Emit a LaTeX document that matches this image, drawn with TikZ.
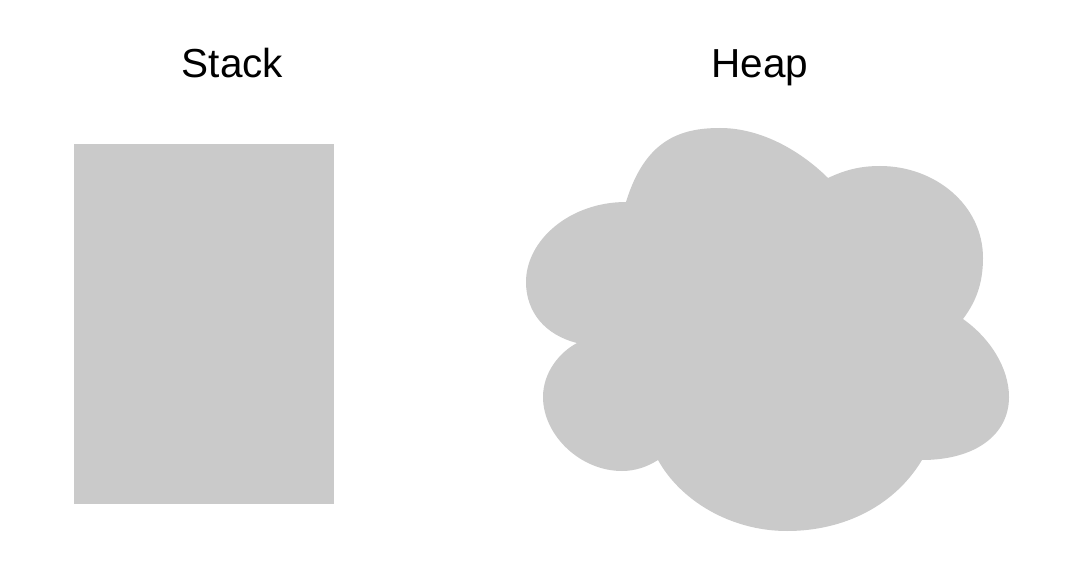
\documentclass[tikz,border=0pt]{standalone}
\usepackage{fontspec}
\setmainfont{Liberation Sans}
\definecolor{blockgray}{RGB}{202,202,202}
\begin{document}
\begin{tikzpicture}[x=1pt,y=-1pt,
  title/.style={anchor=base,inner sep=0pt,font=\fontsize{40.5}{48}\selectfont},
  blockfill/.style={fill=blockgray,draw=none}]
\useasboundingbox (0,0) rectangle (1073,569);
\node[title] (stacklabel) at (232.5,78) {Stack};
\node[title] (heaplabel) at (760,78) {Heap};
\node[blockfill,minimum width=260pt,minimum height=360pt,inner sep=0pt] (stack) at (204,324) {};
\path[blockfill] (626,202)
  .. controls (645,140) and (680,128) .. (720,128)
  .. controls (765,128) and (805,155) .. (828,178)
  .. controls (845,170) and (860,166) .. (880,166)
  .. controls (935,166) and (983,205) .. (983,258)
  .. controls (983,285) and (975,303) .. (963,319)
  .. controls (990,338) and (1009,368) .. (1009,397)
  .. controls (1009,435) and (975,460) .. (922,460)
  .. controls (895,505) and (845,531) .. (787,531)
  .. controls (730,531) and (680,500) .. (658,460)
  .. controls (647,467) and (635,471) .. (622,471)
  .. controls (580,471) and (543,435) .. (543,397)
  .. controls (543,372) and (560,352) .. (577,343)
  .. controls (545,335) and (526,312) .. (526,282)
  .. controls (526,240) and (570,202) .. (626,202) -- cycle;
\end{tikzpicture}
\end{document}
